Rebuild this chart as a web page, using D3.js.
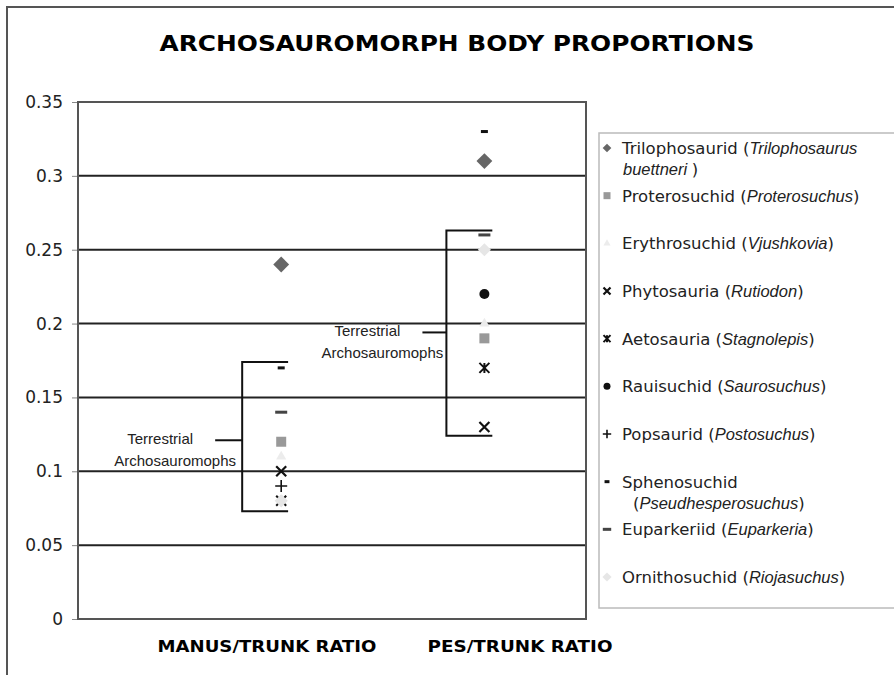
<!DOCTYPE html>
<html>
<head>
<meta charset="utf-8">
<script src="https://cdn.jsdelivr.net/npm/d3@7"></script>
<style>
  body { margin: 0; background: #fff; }
  svg { display: block; }
</style>
</head>
<body>
<div id="viz"></div>
<script>
// data
const CATEGORIES = ["MANUS/TRUNK RATIO", "PES/TRUNK RATIO"];
const GROUPS = ["Trilophosaurid", "Proterosuchid", "Erythrosuchid", "Phytosauria", "Aetosauria",
                "Rauisuchid", "Popsaurid", "Sphenosuchid", "Euparkeriid", "Ornithosuchid"];
const SPECIES = ["Trilophosaurus buettneri", "Proterosuchus", "Vjushkovia", "Rutiodon", "Stagnolepis",
                 "Saurosuchus", "Postosuchus", "Pseudhesperosuchus", "Euparkeria", "Riojasuchus"];
const MARKERS = ["diamond", "square", "triangle", "cross", "star", "circle", "plus", "dash", "longdash", "lightdiamond"];
const MANUS = [0.24, 0.12, 0.11, 0.10, 0.08, null, 0.09, 0.17, 0.14, 0.08];
const PES   = [0.31, 0.19, 0.20, 0.13, 0.17, 0.22, null, 0.33, 0.26, 0.25];
const Y_TICKS = [0, 0.05, 0.1, 0.15, 0.2, 0.25, 0.3, 0.35];
// bracket annotations: [x of vertical, x end, bottom, top, tick y]
const BRACKETS = [
  {vx: 0.808, ex: 1.034, lo: 0.073, hi: 0.174, tick: 0.121, tx: 0.675},
  {vx: 1.813, ex: 2.039, lo: 0.124, hi: 0.263, tick: 0.194, tx: 1.695}
];

const width = 894, height = 675;
var svg = d3.select("#viz").append("svg").attr("width", width).attr("height", height);

var x = d3.scaleLinear().domain([0, 2.5]).range([78, 586]);
var y = d3.scaleLinear().domain([0, 0.35]).range([619, 102]);

// outer frame
svg.append("path").attr("d", "M7,700 L7,7 L900,7").attr("fill", "none")
  .attr("stroke", "#555").attr("stroke-width", 2);

// title
svg.append("text").attr("x", 457).attr("y", 51).attr("text-anchor", "middle")
  .attr("font-family", "DejaVu Sans, Verdana, sans-serif").attr("font-weight", "bold")
  .attr("font-size", 21).attr("textLength", 595).attr("lengthAdjust", "spacingAndGlyphs")
  .text("ARCHOSAUROMORPH BODY PROPORTIONS");

// y axis
var yAxis = svg.append("g").attr("transform", "translate(78,0)")
  .call(d3.axisLeft(y).tickValues(Y_TICKS).tickSize(6).tickPadding(9)
    .tickFormat(d => String(+d.toFixed(2))));
yAxis.select(".domain").remove();
yAxis.selectAll(".tick line").attr("stroke", "#888");
yAxis.selectAll(".tick text").attr("font-family", "DejaVu Sans, Verdana, sans-serif")
  .attr("font-size", 17).attr("fill", "#222");

// gridlines
svg.append("g").selectAll("line").data(Y_TICKS.filter(d => d > 0 && d < 0.35)).enter().append("line")
  .attr("x1", x(0)).attr("x2", x(2.5)).attr("y1", d => y(d)).attr("y2", d => y(d))
  .attr("stroke", "#222").attr("stroke-width", 2);

// plot frame
svg.append("rect").attr("x", x(0)).attr("y", y(0.35))
  .attr("width", x(2.5) - x(0)).attr("height", y(0) - y(0.35))
  .attr("fill", "none").attr("stroke", "#555").attr("stroke-width", 2);

// x category labels
const XLAB = [267, 520];
svg.append("g").selectAll("text").data(CATEGORIES).enter().append("text")
  .attr("x", (d, i) => XLAB[i]).attr("y", 652).attr("text-anchor", "middle")
  .attr("font-family", "DejaVu Sans, Verdana, sans-serif").attr("font-weight", "bold")
  .attr("font-size", 16).attr("textLength", (d, i) => i == 0 ? 219 : 185)
  .attr("lengthAdjust", "spacingAndGlyphs").text(d => d);

// brackets
var br = svg.append("g").attr("stroke", "#111").attr("stroke-width", 2).attr("fill", "none");
BRACKETS.forEach(b => {
  br.append("path").attr("d",
    "M" + x(b.ex) + "," + y(b.hi) + "H" + x(b.vx) + "V" + y(b.lo) + "H" + x(b.ex));
  br.append("line").attr("x1", x(b.tx)).attr("x2", x(b.vx)).attr("y1", y(b.tick)).attr("y2", y(b.tick));
  var t = svg.append("g").attr("font-family", "Liberation Sans, Arial, sans-serif")
    .attr("font-size", 15).attr("fill", "#222").attr("text-anchor", "middle");
  t.append("text").attr("x", x(b.tx) - 55).attr("y", y(b.tick) + 4).text("Terrestrial");
  t.append("text").attr("x", x(b.tx) - 40).attr("y", y(b.tick) + 26).text("Archosauromophs");
});

// marker drawing
function drawMarker(g, type, s) {
  // s = scale factor
  switch (type) {
    case "diamond":
      g.append("path").attr("d", d3.symbol(d3.symbolDiamond2, 160 * s * s)).attr("fill", "#666");
      break;
    case "square":
      g.append("rect").attr("x", -5 * s).attr("y", -5 * s).attr("width", 10 * s).attr("height", 10 * s).attr("fill", "#999");
      break;
    case "triangle":
      g.append("path").attr("d", d3.symbol(d3.symbolTriangle, 45 * s * s)).attr("fill", "#ececec");
      break;
    case "cross":
      g.append("path").attr("d", `M${-5*s},${-5*s}L${5*s},${5*s}M${-5*s},${5*s}L${5*s},${-5*s}`)
        .attr("stroke", "#111").attr("stroke-width", 2.2);
      break;
    case "star":
      g.append("path").attr("d", `M${-5*s},${-5*s}L${5*s},${5*s}M${-5*s},${5*s}L${5*s},${-5*s}M0,${-5*s}V${5*s}`)
        .attr("stroke", "#111").attr("stroke-width", 2);
      break;
    case "circle":
      g.append("circle").attr("r", 5 * s).attr("fill", "#111");
      break;
    case "plus":
      g.append("path").attr("d", `M${-6*s},0H${6*s}M0,${-6*s}V${6*s}`)
        .attr("stroke", "#111").attr("stroke-width", 1.6);
      break;
    case "dash":
      g.append("rect").attr("x", -3.5 * s).attr("y", -1.5).attr("width", 7 * s).attr("height", 3).attr("fill", "#111");
      break;
    case "longdash":
      g.append("rect").attr("x", -6 * s).attr("y", -1.5).attr("width", 12 * s).attr("height", 3).attr("fill", "#444");
      break;
    case "lightdiamond":
      g.append("path").attr("d", d3.symbol(d3.symbolDiamond2, 110 * s * s)).attr("fill", "#e6e6e6");
      break;
  }
}

// data points
var points = [];
GROUPS.forEach((gname, i) => {
  if (MANUS[i] != null) points.push({cat: 1, v: MANUS[i], m: MARKERS[i]});
  if (PES[i] != null) points.push({cat: 2, v: PES[i], m: MARKERS[i]});
});
var pg = svg.append("g").selectAll("g").data(points).enter().append("g")
  .attr("transform", d => "translate(" + x(d.cat) + "," + y(d.v) + ")");
pg.each(function (d) { drawMarker(d3.select(this), d.m, 1); });

// legend
svg.append("rect").attr("x", 599).attr("y", 133).attr("width", 320).attr("height", 475)
  .attr("fill", "#fff").attr("stroke", "#bbb").attr("stroke-width", 1.5);
var ly = d3.scaleLinear().domain([0, 9]).range([148, 577]);
var leg = svg.append("g").selectAll("g").data(GROUPS).enter().append("g")
  .attr("transform", (d, i) => "translate(0," + ly(i) + ")");
leg.each(function (d, i) {
  var g = d3.select(this);
  drawMarker(g.append("g").attr("transform", "translate(607,0)"), MARKERS[i], i == 0 ? 0.55 : 0.7);
  var t = g.append("text").attr("x", 622).attr("y", 6)
    .attr("font-family", "DejaVu Sans, Verdana, sans-serif").attr("font-size", 16.5).attr("fill", "#222");
  var sp = SPECIES[i];
  if (i == 0) {
    var parts = sp.split(" ");
    t.append("tspan").text(d + " (");
    t.append("tspan").attr("font-family", "Liberation Sans, Arial, sans-serif").attr("font-style", "italic").text(parts[0]);
    var t2 = g.append("text").attr("x", 623).attr("y", 27)
      .attr("font-family", "DejaVu Sans, Verdana, sans-serif").attr("font-size", 16.5).attr("fill", "#222");
    t2.append("tspan").attr("font-family", "Liberation Sans, Arial, sans-serif").attr("font-style", "italic").text(parts[1] + " ");
    t2.append("tspan").text(")");
  } else if (d == "Sphenosuchid") {
    t.text(d);
    var t3 = g.append("text").attr("x", 633).attr("y", 27)
      .attr("font-family", "DejaVu Sans, Verdana, sans-serif").attr("font-size", 16.5).attr("fill", "#222");
    t3.append("tspan").text("(");
    t3.append("tspan").attr("font-family", "Liberation Sans, Arial, sans-serif").attr("font-style", "italic").text(sp);
    t3.append("tspan").text(")");
  } else {
    t.append("tspan").text(d + " (");
    t.append("tspan").attr("font-family", "Liberation Sans, Arial, sans-serif").attr("font-style", "italic").text(sp);
    t.append("tspan").text(")");
  }
});
</script>
</body>
</html>
